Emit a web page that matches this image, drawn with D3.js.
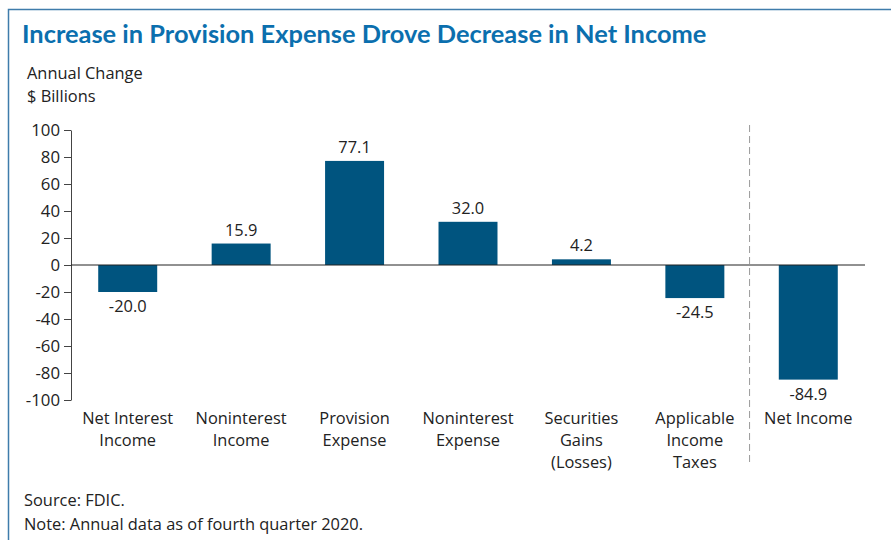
<!DOCTYPE html>
<html>
<head>
<meta charset="utf-8">
<script src="https://cdn.jsdelivr.net/npm/d3@7"></script>
<style>
  body { margin: 0; background: #fff; }
  svg { display: block; }
</style>
</head>
<body>
<svg id="chart" width="891" height="540"></svg>
<script>
// --- data ---
const categories = [
  ["Net Interest", "Income"],
  ["Noninterest", "Income"],
  ["Provision", "Expense"],
  ["Noninterest", "Expense"],
  ["Securities", "Gains", "(Losses)"],
  ["Applicable", "Income", "Taxes"],
  ["Net Income"]
];
const values = [-20.0, 15.9, 77.1, 32.0, 4.2, -24.5, -84.9];
const yTicks = [100, 80, 60, 40, 20, 0, -20, -40, -60, -80, -100];

const title = "Increase in Provision Expense Drove Decrease in Net Income";
const notes = ["Source: FDIC.", "Note: Annual data as of fourth quarter 2020."];

// --- setup ---
const svg = d3.select("#chart");
const font = "'Open Sans', sans-serif";
const FS = 16.4;
const BAR = "#00547f";

// frame
svg.append("rect")
  .attr("x", 8.5).attr("y", 9.5)
  .attr("width", 900).attr("height", 560)
  .attr("fill", "none")
  .attr("stroke", "#3f7cab")
  .attr("stroke-width", 1.5);

svg.append("text")
  .attr("x", 22).attr("y", 43)
  .attr("font-family", "Lato, sans-serif")
  .attr("font-weight", "bold")
  .attr("font-size", 25.4)
  .attr("fill", "#0b6fae")
  .text(title);

svg.append("text").attr("x", 27).attr("y", 79)
  .attr("font-family", font).attr("font-size", FS).attr("fill", "#222")
  .text("Annual Change");
svg.append("text").attr("x", 27).attr("y", 102)
  .attr("font-family", font).attr("font-size", FS).attr("fill", "#222")
  .text("$ Billions");

// scales
const x = d3.scaleBand()
  .domain(d3.range(values.length))
  .range([71, 865])
  .paddingInner(0.48)
  .paddingOuter(0.24);

const y = d3.scaleLinear().domain([-100, 100]).range([400, 130]);

// y axis (plain hyphen for negatives, like the original)
const yAxis = svg.append("g")
  .attr("transform", "translate(71,0)")
  .call(d3.axisLeft(y).tickValues(yTicks).tickFormat(d => String(d))
    .tickSize(7).tickSizeOuter(0).tickPadding(4));
yAxis.select(".domain").attr("stroke", "#444");
yAxis.selectAll(".tick line").attr("stroke", "#444");
yAxis.selectAll(".tick text")
  .attr("font-family", font).attr("font-size", 16.8).attr("fill", "#222");

// divider before Net Income
const divX = x.step() * 6 + 71 - 2;
svg.append("line")
  .attr("x1", divX).attr("x2", divX)
  .attr("y1", 125).attr("y2", 466)
  .attr("stroke", "#9a9a9a")
  .attr("stroke-width", 1)
  .attr("stroke-dasharray", "7,4");

// bars
svg.append("g").selectAll("rect")
  .data(values)
  .join("rect")
  .attr("x", (d, i) => x(i))
  .attr("y", d => y(Math.max(0, d)))
  .attr("width", x.bandwidth())
  .attr("height", d => Math.abs(y(d) - y(0)))
  .attr("fill", BAR);

// zero line
svg.append("line")
  .attr("x1", 71).attr("x2", 865)
  .attr("y1", y(0)).attr("y2", y(0))
  .attr("stroke", "#222").attr("stroke-width", 1);

// value labels
svg.append("g").selectAll("text")
  .data(values)
  .join("text")
  .attr("x", (d, i) => x(i) + x.bandwidth() / 2)
  .attr("y", d => d >= 0 ? y(d) - 8 : y(d) + 20)
  .attr("text-anchor", "middle")
  .attr("font-family", font).attr("font-size", FS).attr("fill", "#222")
  .text(d => d.toFixed(1));

// category labels
const cat = svg.append("g").selectAll("text")
  .data(categories)
  .join("text")
  .attr("x", (d, i) => x(i) + x.bandwidth() / 2)
  .attr("y", 424)
  .attr("text-anchor", "middle")
  .attr("font-family", font).attr("font-size", FS).attr("fill", "#222");
cat.selectAll("tspan")
  .data(d => d)
  .join("tspan")
  .attr("x", function() { return d3.select(this.parentNode).attr("x"); })
  .attr("dy", (d, i) => i === 0 ? 0 : 22)
  .text(d => d);

// source / note
svg.append("g").selectAll("text")
  .data(notes)
  .join("text")
  .attr("x", 24)
  .attr("y", (d, i) => 506 + i * 24)
  .attr("font-family", font).attr("font-size", FS).attr("fill", "#222")
  .text(d => d);
</script>
</body>
</html>
